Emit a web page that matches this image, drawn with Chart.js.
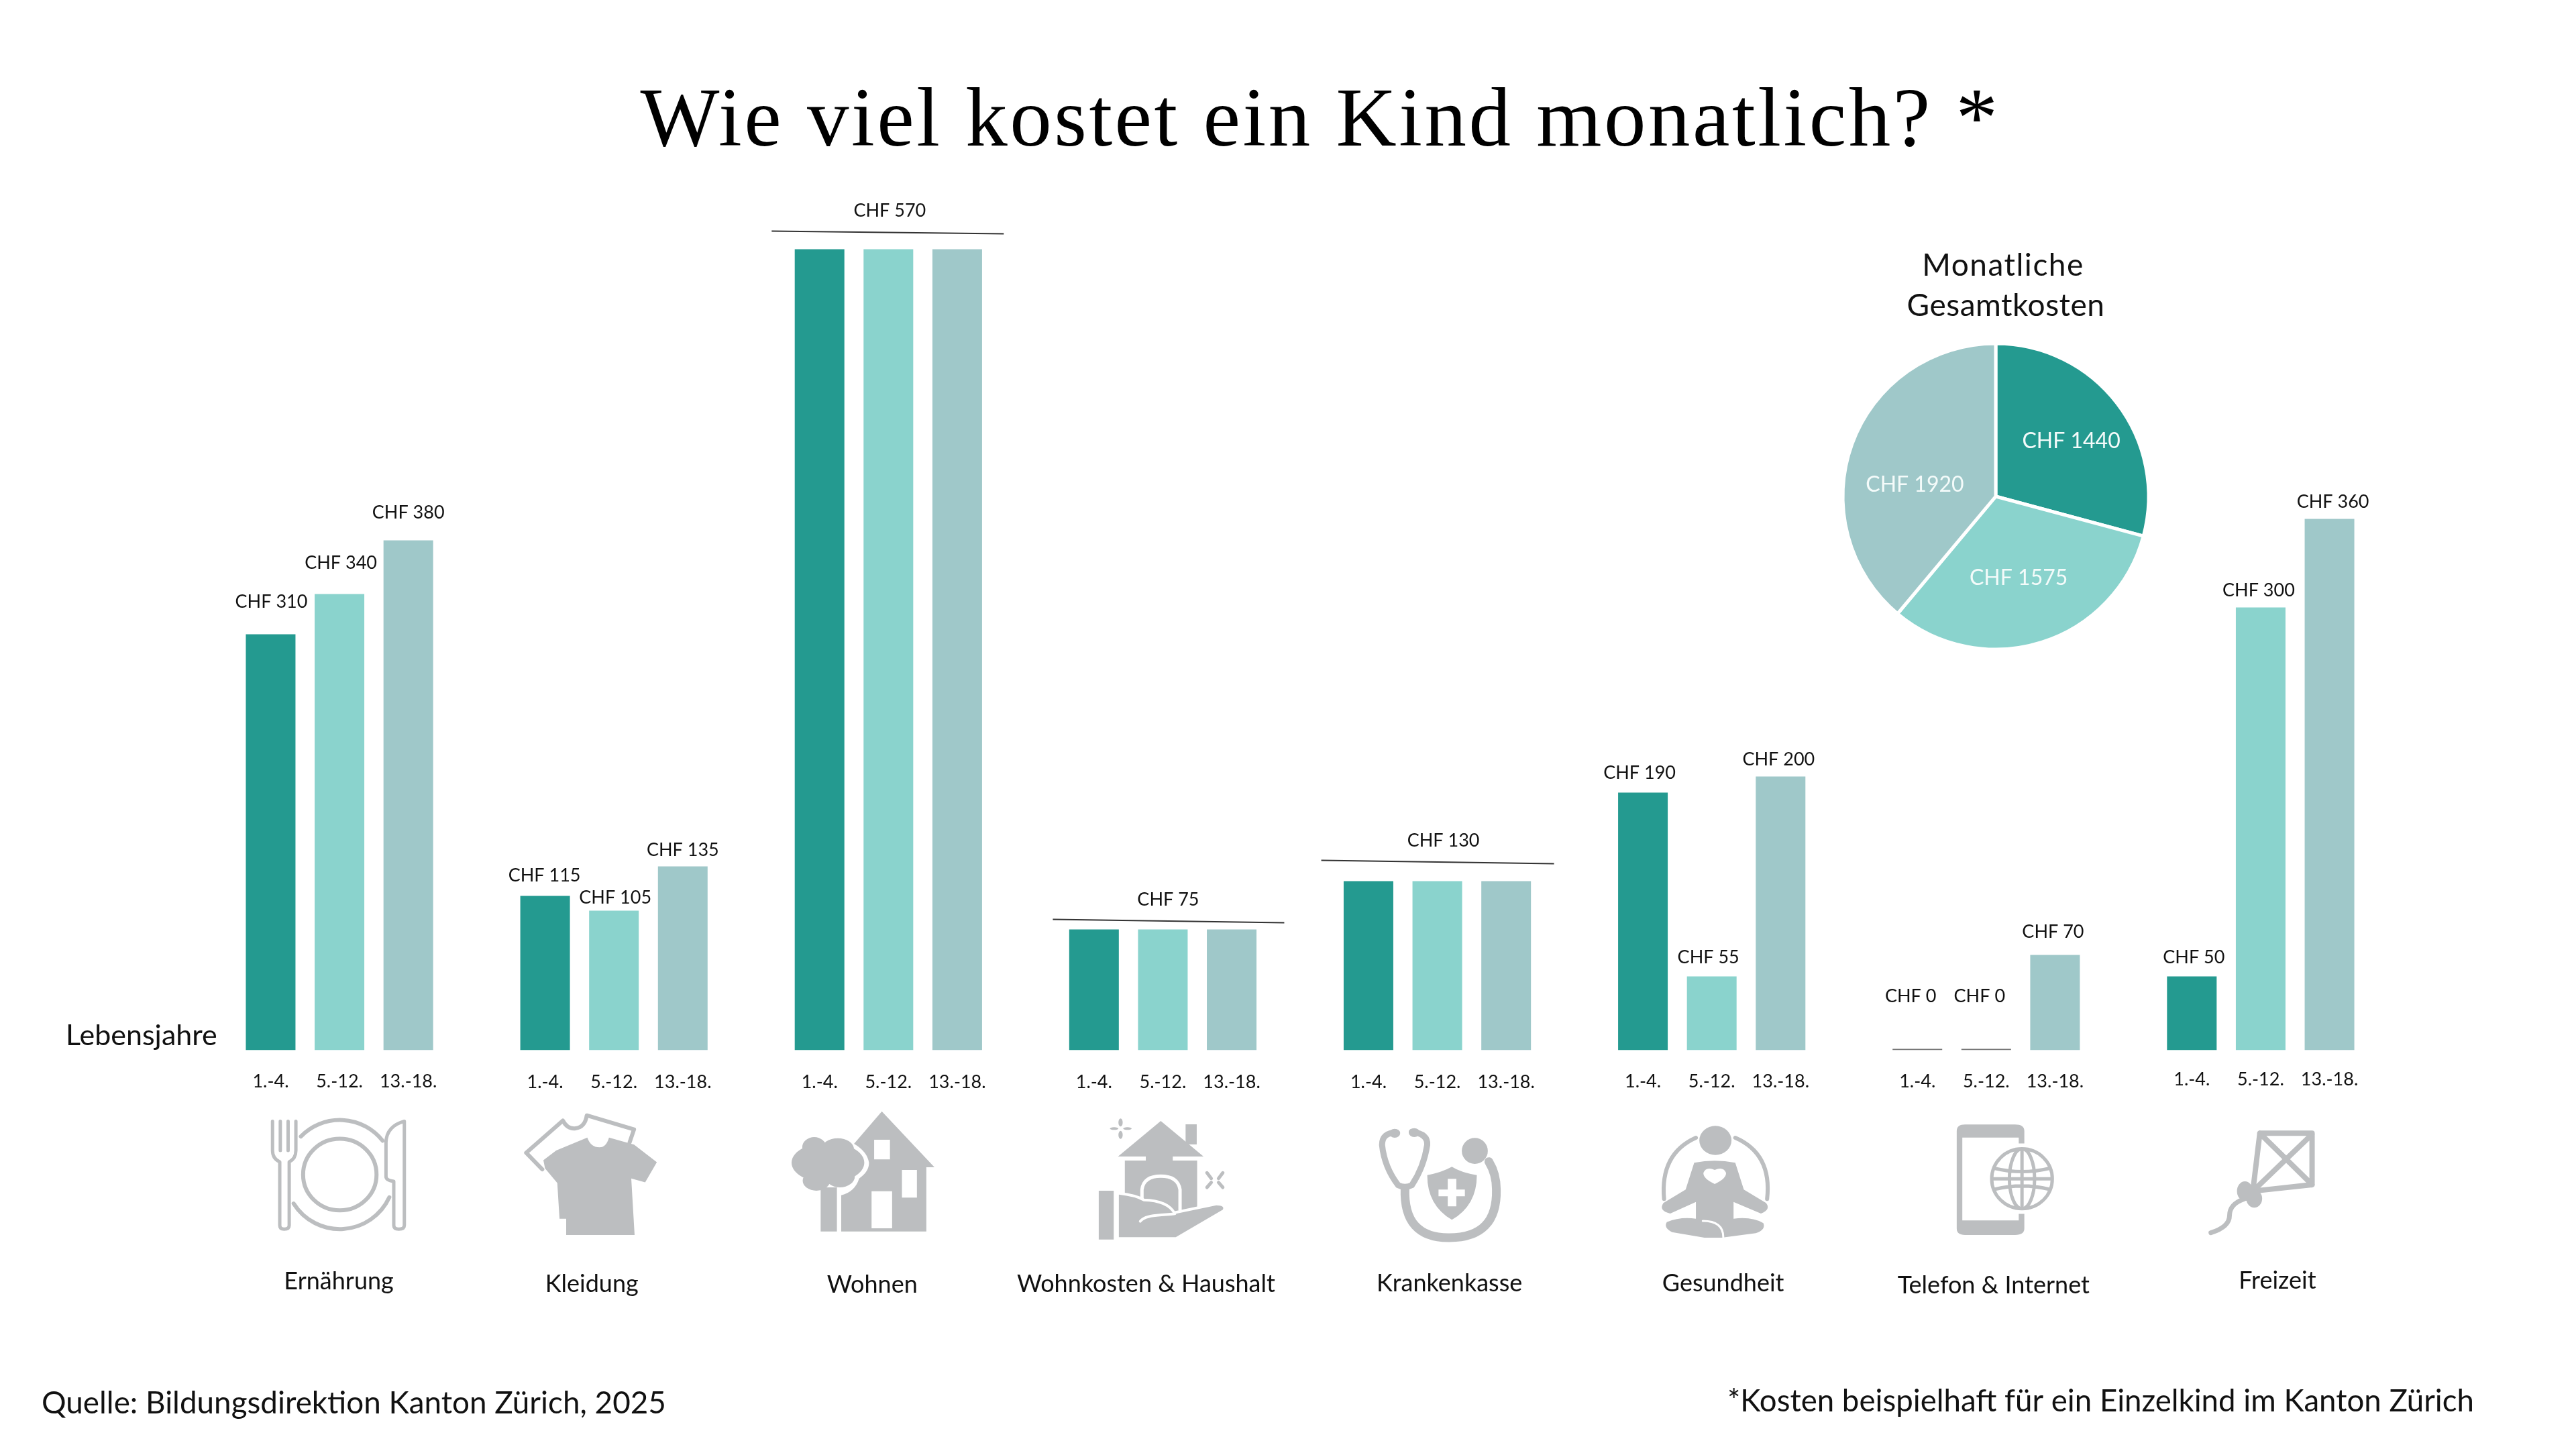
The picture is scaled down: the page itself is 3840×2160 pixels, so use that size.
<!DOCTYPE html>
<html lang="de">
<head>
<meta charset="utf-8">
<title>Wie viel kostet ein Kind monatlich?</title>
<script src="https://cdn.jsdelivr.net/npm/chart.js@4"></script>
<style>
html,body{margin:0;padding:0;background:#fff;width:3840px;height:2160px;overflow:hidden}
canvas{position:absolute;display:block}
</style>
</head>
<body>
<canvas id="bars" width="3840" height="2160" style="left:0;top:0;width:3840px;height:2160px"></canvas>
<canvas id="pie" width="480" height="480" style="left:2735px;top:500px;width:480px;height:480px"></canvas>
<script>
// ---- data -------------------------------------------------------------
const categories = ["Ernährung","Kleidung","Wohnen","Wohnkosten & Haushalt","Krankenkasse","Gesundheit","Telefon & Internet","Freizeit"];
const ageGroups = ["1.-4.","5.-12.","13.-18."];
// Amounts printed in the reference
const printed1to4   = [310,115,570,75,130,190,0,50];
const printed5to12  = [340,105,570,75,130,55,0,300];
const printed13to18 = [380,135,570,75,130,200,70,360];
// Bar heights as drawn in the reference (some of its bars are not to scale with their printed amount)
const drawn1to4   = [310,115,597,90,126,192,0,55];
const drawn5to12  = [340,104,597,90,126,55,0,330];
const drawn13to18 = [380,137,597,90,126,204,71,396];
const totalLabels = ["CHF 1440","CHF 1575","CHF 1920"];
const totals = [1440,1575,1920];

// ---- styles and layout --------------------------------------------------
const TEAL="#249a90", MINT="#8ad3cd", HAZE="#9fc8c9", ICON="#bcbec0", INK="#111111", ZERO="#777777";
const SANS="Lato";
const printed=[printed1to4,printed5to12,printed13to18];
// label placement relative to each bar's top: [dx, gap above the bar]
const labelNudge={
 0:[[1,40],[2,38],[0,33]],
 1:[[-1,22],[2,11],[0,16]],
 5:[[-5,21],[-5,20],[-3,17]],
 6:[[-10,70],[-10,70],[-3,26]],
 7:[[3,20],[-3,17],[5,17]]
};
// groups sharing one amount: one label over a slightly sloped rule
const sharedNudge={
 2:{dx:2,gap:49,rule:[-174,-27,172,-23]},
 3:{dx:8,gap:36,rule:[-164,-15,181,-10]},
 4:{dx:9,gap:52,rule:[-173,-31,174,-26]}
};
const categoryNudge=[[-1,1922],[-33,1926],[-24,1927],[-25,1926],[18,1925],[17,1925],[11,1928],[25,1921]];
const ageBaseline=[1621,1622,1622,1622,1622,1621,1621,1618];

function text(ctx,s,x,y,font,color,align,spacing){
 ctx.font=font;ctx.fillStyle=color;ctx.textAlign=align||"center";ctx.textBaseline="alphabetic";
 ctx.letterSpacing=spacing||"0px";
 ctx.fillText(s,x,y);
 ctx.letterSpacing="0px";
}

// ---- pictograms (paths in crop space, mapped to the page) -----------------
const A=[1/1.20615,1/2.0632,0,1400], B=[1/1.568,1/3,1150,1600], C=[1/1.96,1/3,2000,1600], D=[1/1.4385,1/2.0632,2750,1400];
function ell(cx,cy,rx,ry){return `M${cx-rx} ${cy}A${rx} ${ry} 0 1 1 ${cx+rx} ${cy}A${rx} ${ry} 0 1 1 ${cx-rx} ${cy}Z`;}
const icons=[
 {m:A,parts:[
  {s:6,d:ell(611,724,66,110)},
  {s:6,d:"M541 607A98 168 0 0 1 688 620M528 813A98 168 0 0 0 700 794"},
  {s:5,d:"M490 560V650Q490 675 503 685V880Q503 892 511 892Q520 892 520 880V685Q532 675 532 650V560M504 560V650M518 560V650"},
  {s:5,d:"M727 560Q695 575 694 625V730Q694 742 708 745V880Q708 892 717 892Q727 892 727 880Z"}]},
 {m:A,parts:[
  {f:1,d:"M977 680L1000 650L1056 610Q1062 640 1078 640Q1090 640 1095 610L1140 632L1181 686L1160 748L1135 736L1141 910H1018V860H1006L1002 750L980 705Z"},
  {s:6,d:"M975 708L946 657L1012 558Q1020 585 1035 582Q1052 578 1055 542L1140 585L1132 625"}]},
 {m:B,parts:[
  {f:1,eo:1,d:"M258 170L381 420H362V707H163V545Q195 530 205 470Q228 440 228 400Q224 350 193 315ZM240 297V385H277V297ZM305 432V556H340V432ZM234 527V693H282V527Z"},
  {f:1,d:ell(132,400,85,90)+ell(100,330,28,45)+ell(155,340,38,50)+ell(105,480,32,45)+ell(160,460,35,50)+"M115 510H153V707H115Z"}]},
 {m:B,parts:[
  {f:1,d:"M968 228H994V318H968Z"},
  {f:1,d:"M910 213L1010 372H938V390H995V600L958 625H940Q935 580 900 570Q870 585 840 545H826V390H875V372H810Z"},
  {w:5,d:"M866 575V520Q870 460 910 460Q950 460 955 520V610"},
  {f:1,d:"M765 525H800V743H765Z"},
  {w:8,d:"M812 542Q850 550 870 572Q925 575 940 630L1040 590"},
  {f:1,d:"M812 542Q850 550 870 572Q925 575 940 630L1040 590Q1060 590 1055 610L945 733H812Z"},
  {w:4,d:"M862 662Q870 640 900 635Q925 632 943 628"},
  {f:1,d:ell(816,220,5,18)+ell(816,275,5,18)+ell(801,247,10,6)+ell(832,247,10,6)},
  {s:5,d:"M1018 445L1028 470M1055 445L1045 470M1018 510L1028 488M1055 510L1045 488"}]},
 {m:C,parts:[
  {s:9,d:"M160 265Q118 265 118 320Q125 420 165 500Q185 515 205 500Q240 420 250 320Q252 270 205 262"},
  {f:1,d:ell(155,268,16,20)+ell(212,265,16,20)},
  {s:13,d:"M185 515Q180 738 315 735Q455 735 452 520Q452 450 430 395"},
  {f:1,d:ell(389,347,38,58)},
  {f:1,d:"M322 418Q290 445 250 455Q250 590 322 655Q395 590 395 455Q350 445 322 418Z"},
  {w:0,d:"M310 472H335V595H310ZM283 520H360V550H283Z"}]},
 {m:C,parts:[
  {f:1,d:ell(1092,300,47,65)},
  {s:6,d:"M1035 288Q930 360 942 562M1150 288Q1258 360 1243 562"},
  {f:1,d:"M1030 400Q1090 382 1150 400L1175 520L1240 580Q1255 610 1225 627L1145 575V650Q1200 640 1232 670Q1240 700 1210 715L1110 735H1060L965 710Q940 690 950 665Q990 640 1035 650V575L960 627Q925 615 940 580L1005 520Z"},
  {w:0,d:"M1090 495Q1055 470 1057 445Q1065 415 1090 432Q1115 415 1123 445Q1125 470 1090 495Z"},
  {w:3,d:"M1055 660Q1115 660 1115 733"}]},
 {m:D,parts:[
  {f:1,d:"M258 570Q240 570 240 590V890Q240 910 258 910H365Q385 910 385 890V845H373V865H252V610H373V628H385V590Q385 570 365 570Z"},
  {s:5,d:ell(380,737,65,92)+ell(380,737,27,92)+"M380 645V829M315 737H445M322 705Q380 725 438 705M322 769Q380 749 438 769"}]},
 {m:D,parts:[
  {s:8,d:"M890 597H1002V755L875 775ZM890 597L1002 755M1002 600L875 775"},
  {f:1,d:ell(858,775,17,30)+ell(878,798,17,28)},
  {s:7,d:"M855 800Q825 815 825 850Q825 885 785 903"}]}
];
function drawIcons(ctx){
 icons.forEach(ic=>{
  const [sx,sy,tx,ty]=ic.m, mat=new DOMMatrix([sx,0,0,sy,tx,ty]);
  ic.parts.forEach(p=>{
   const path=new Path2D();path.addPath(new Path2D(p.d),mat);
   ctx.lineCap="round";ctx.lineJoin="round";
   if(p.f){ctx.fillStyle=ICON;ctx.fill(path,p.eo?"evenodd":"nonzero");}
   else if(p.s){ctx.strokeStyle=ICON;ctx.lineWidth=p.s;ctx.stroke(path);}
   else if(p.w){ctx.strokeStyle="#fff";ctx.lineWidth=p.w;ctx.stroke(path);}
   else{ctx.fillStyle="#fff";ctx.fill(path);}
  });
 });
}

// ---- annotation plugin: everything is anchored on the chart's own bars --
const annotate={
 id:"annotate",
 afterDatasetsDraw(chart){
  const ctx=chart.ctx, metas=[0,1,2].map(i=>chart.getDatasetMeta(i));
  ctx.save();
  const valueFont=`400 27px ${SANS}`;
  categories.forEach((cat,g)=>{
   const mid=metas[1].data[g];
   metas.forEach((meta,a)=>{
    const bar=meta.data[g];
    text(ctx,ageGroups[a],bar.x,ageBaseline[g],`400 27px ${SANS}`,INK);
    if(labelNudge[g]){
     const [dx,gap]=labelNudge[g][a];
     text(ctx,"CHF "+printed[a][g],bar.x+dx,bar.y-gap,valueFont,INK);
    }
   });
   if(sharedNudge[g]){
    const n=sharedNudge[g], [x0,y0,x1,y1]=n.rule;
    text(ctx,"CHF "+printed[0][g],mid.x+n.dx,mid.y-n.gap,valueFont,INK);
    ctx.strokeStyle="#333";ctx.lineWidth=2;ctx.beginPath();
    ctx.moveTo(mid.x+x0,mid.y+y0);ctx.lineTo(mid.x+x1,mid.y+y1);ctx.stroke();
   }
   const [cdx,cy]=categoryNudge[g];
   text(ctx,cat,mid.x+cdx,cy,`400 36px ${SANS}`,INK);
  });
  text(ctx,"Wie viel kostet ein Kind monatlich? *",1968,217,"400 125px 'Liberation Serif'","#000","center","3.5px");
  text(ctx,"Lebensjahre",98,1558,`400 43px ${SANS}`,INK,"left");
  text(ctx,"Monatliche",2986,411,`400 46px ${SANS}`,INK,"center","1.5px");
  text(ctx,"Gesamtkosten",2990,471,`400 46px ${SANS}`,INK,"center","0.5px");
  text(ctx,"Quelle: Bildungsdirektion Kanton Zürich, 2025",62,2107,`400 45.8px ${SANS}`,INK,"left");
  text(ctx,"*Kosten beispielhaft für ein Einzelkind im Kanton Zürich",3688,2104,`400 45.6px ${SANS}`,INK,"right");
  drawIcons(ctx);
  ctx.restore();
 }
};

const zeroOr=c=>ctx=>ctx.raw===0?ZERO:c;
new Chart(document.getElementById("bars"),{
 type:"bar",
 data:{labels:categories,datasets:[
  {label:ageGroups[0],data:drawn1to4,backgroundColor:zeroOr(TEAL)},
  {label:ageGroups[1],data:drawn5to12,backgroundColor:zeroOr(MINT)},
  {label:ageGroups[2],data:drawn13to18,backgroundColor:zeroOr(HAZE)}
 ]},
 options:{
  responsive:false,animation:false,devicePixelRatio:1,
  layout:{padding:{left:301.5,right:265.5,top:265.6,bottom:594.4}},
  datasets:{bar:{categoryPercentage:0.7524,barPercentage:0.7212,minBarLength:2}},
  scales:{x:{display:false},y:{display:false,min:0,max:650}},
  plugins:{legend:{display:false},title:{display:false},tooltip:{enabled:false}}
 },
 plugins:[annotate]
});

const pieLabels={
 id:"pieLabels",
 afterDatasetsDraw(chart){
  const ctx=chart.ctx, arcs=chart.getDatasetMeta(0).data, nudges=[[4,-1],[-7,-10],[8,28]];
  const font=`400 32px ${SANS}`;
  ctx.save();
  arcs.forEach((arc,i)=>{
   const a=(arc.startAngle+arc.endAngle)/2, r=arc.outerRadius*0.6;
   const x=arc.x+Math.cos(a)*r+nudges[i][0], y=arc.y+Math.sin(a)*r+nudges[i][1]+12;
   text(ctx,totalLabels[i],x,y,font,"#f4fbfa");
  });
  ctx.restore();
 }
};
new Chart(document.getElementById("pie"),{
 type:"pie",
 data:{labels:ageGroups,datasets:[{data:totals,backgroundColor:[TEAL,MINT,HAZE],borderColor:"#fff",borderWidth:5,hoverOffset:0}]},
 options:{responsive:false,animation:false,devicePixelRatio:1,radius:228,layout:{padding:0},
  plugins:{legend:{display:false},title:{display:false},tooltip:{enabled:false}}},
 plugins:[pieLabels]
});
</script>
</body>
</html>
